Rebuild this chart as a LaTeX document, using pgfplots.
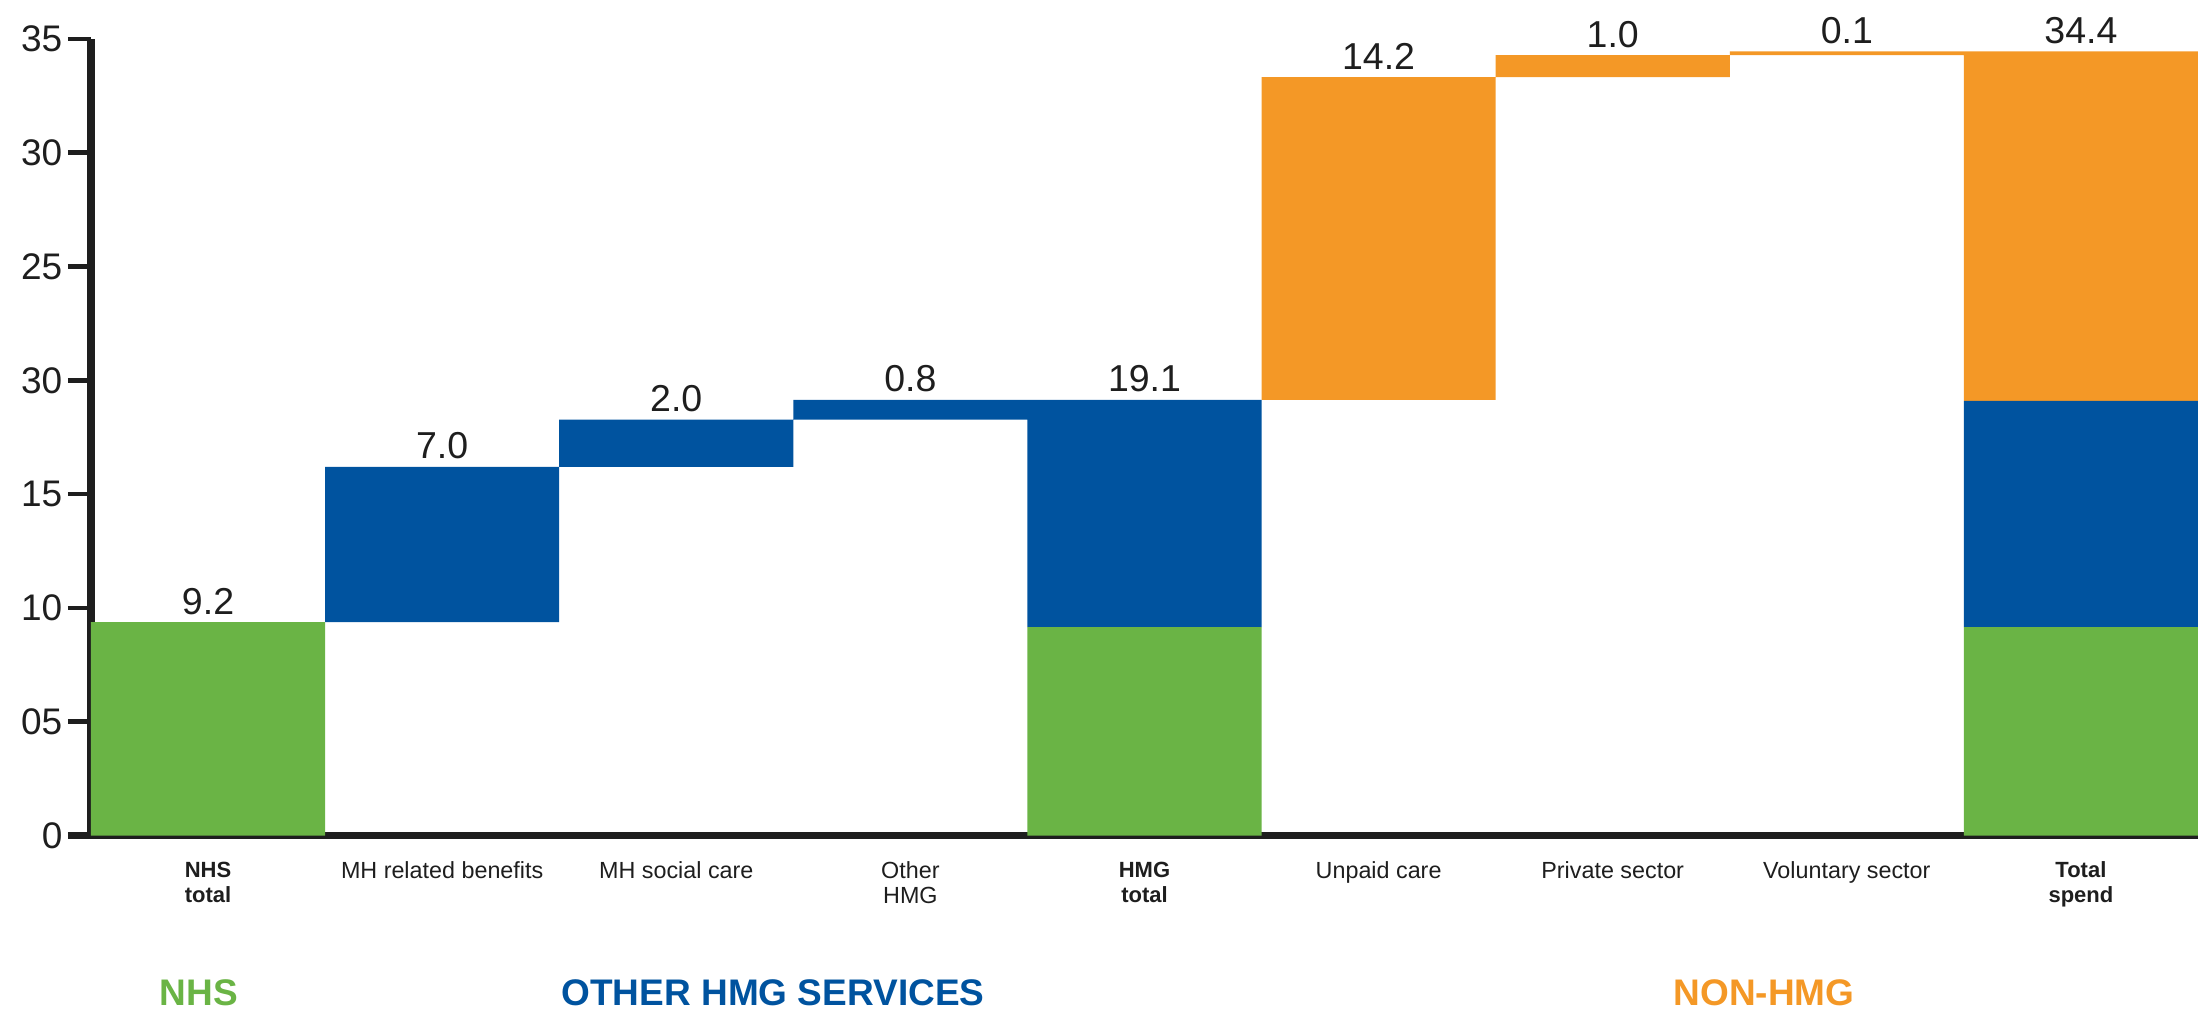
\documentclass[border=0pt]{standalone}
\usepackage{fontspec}
\setmainfont{Liberation Sans}
\usepackage{pgfplots}
\usepackage{pgfplotstable}
\pgfplotsset{compat=1.18}
\definecolor{nhsgreen}{RGB}{106,180,69}
\definecolor{hmgblue}{RGB}{0,83,159}
\definecolor{nonorange}{RGB}{244,152,38}
\definecolor{ink}{RGB}{30,30,30}

\pgfplotstableread{
x base green blue orange top lab
0 0 9.38 0 0 9.38 9.2
1 9.38 0 6.82 0 16.20 7.0
2 16.20 0 2.07 0 18.27 2.0
3 18.27 0 0.87 0 19.14 0.8
4 0 9.16 9.98 0 19.14 19.1
5 19.14 0 0 14.19 33.33 14.2
6 33.33 0 0 0.96 34.29 1.0
7 34.29 0 0 0.17 34.46 0.1
8 0 9.16 9.94 15.36 34.46 34.4
}\wf

\begin{document}
\begin{tikzpicture}
\begin{axis}[
  scale only axis, width=632.1pt, height=238.95pt,
  at={(0,0)}, anchor=south west,
  xmin=-0.5, xmax=8.5, ymin=0, ymax=35,
  enlargelimits=false,
  axis lines=left,
  axis line style={-, draw=ink},
  x axis line style={line width=2.1pt, shorten <=-6.9pt},
  y axis line style={line width=2.4pt},
  ybar stacked, bar width=1,
  ytick={0,5,...,35},
  yticklabels={0,05,10,15,30,25,30,35},
  tick align=outside,
  major tick length=6.9pt,
  ytick style={line width=1.4pt, draw=ink},
  yticklabel style={font=\fontsize{11.1}{13}\selectfont, text=ink, inner sep=1.5pt},
  xtick={0,...,8},
  xtick style={draw=none},
  xticklabels={{\fontsize{6.6}{7.5}\selectfont\textbf{NHS}\\\fontsize{6.6}{7.5}\selectfont\textbf{total}},
    {MH related benefits},{MH social care},{Other\\HMG},
    {\fontsize{6.6}{7.5}\selectfont\textbf{HMG}\\\fontsize{6.6}{7.5}\selectfont\textbf{total}},
    {Unpaid care},{Private sector},{Voluntary sector},
    {\fontsize{6.6}{7.5}\selectfont\textbf{Total}\\\fontsize{6.6}{7.5}\selectfont\textbf{spend}}},
  xticklabel style={font=\fontsize{7}{7.5}\selectfont, align=center, text=ink, inner sep=0.75pt, anchor=north},
  clip=false,
]
\addplot[draw=none, fill=none] table[x=x,y=base]{\wf};
\addplot[draw=none, fill=nhsgreen] table[x=x,y=green]{\wf};
\addplot[draw=none, fill=hmgblue] table[x=x,y=blue]{\wf};
\addplot[draw=none, fill=nonorange] table[x=x,y=orange]{\wf};
\node[anchor=base, font=\bfseries\fontsize{11.1}{13}\selectfont, text=nhsgreen] at (axis cs:-0.04,-7.45) {NHS};
\node[anchor=base, font=\bfseries\fontsize{11.1}{13}\selectfont, text=hmgblue] at (axis cs:2.413,-7.45) {OTHER HMG SERVICES};
\node[anchor=base, font=\bfseries\fontsize{11.1}{13}\selectfont, text=nonorange] at (axis cs:6.646,-7.45) {NON-HMG};
\end{axis}
\begin{axis}[
  scale only axis, width=632.1pt, height=238.95pt,
  at={(0,0)}, anchor=south west,
  xmin=-0.5, xmax=8.5, ymin=0, ymax=35,
  enlargelimits=false, hide axis, clip=false,
]
\addplot[only marks, mark=none, draw=none,
  nodes near coords, point meta=explicit symbolic,
  every node near coord/.append style={anchor=base, inner sep=0pt, yshift=2.4pt,
    font=\fontsize{11.25}{13}\selectfont, text=ink}]
  table[x=x,y=top,meta=lab]{\wf};
\end{axis}
\pgfresetboundingbox
\path[use as bounding box] (-27.3pt,-52.05pt) rectangle (632.1pt,250.65pt);
\end{tikzpicture}
\end{document}
